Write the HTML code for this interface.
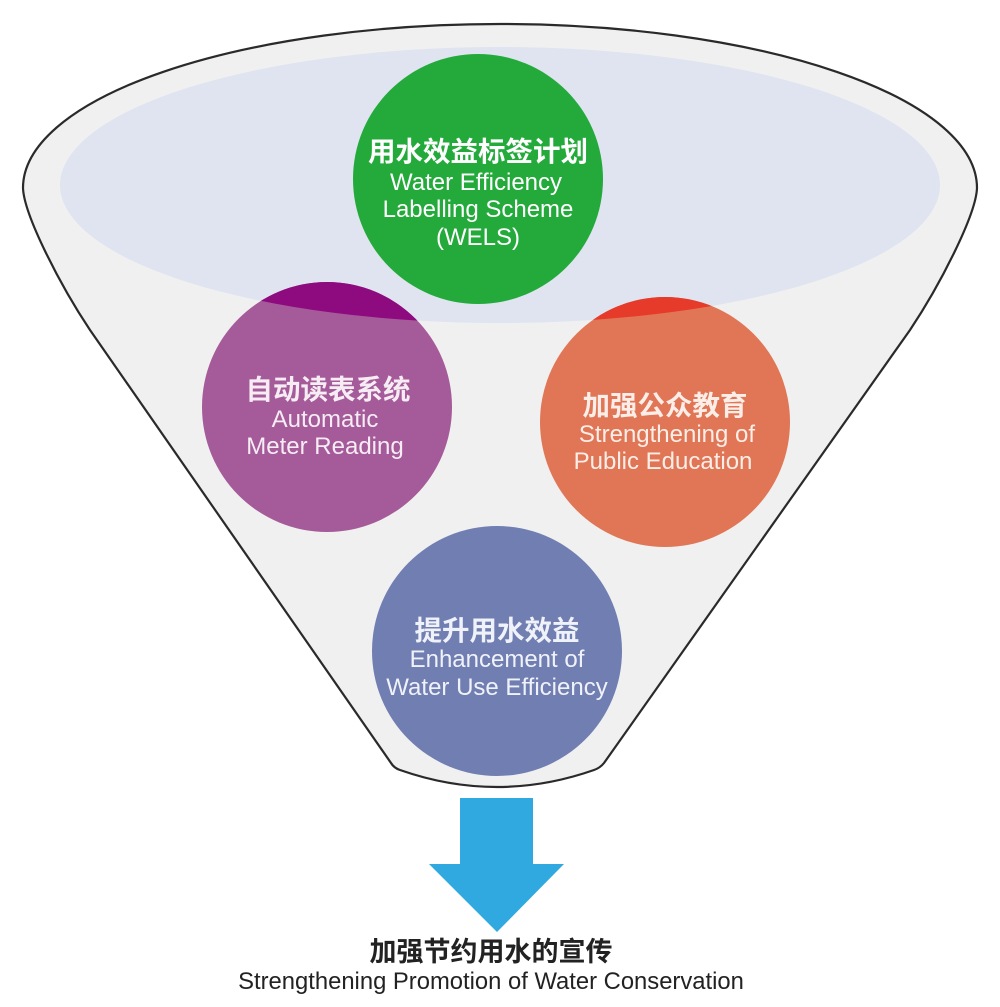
<!DOCTYPE html>
<html>
<head>
<meta charset="utf-8">
<style>
html,body{margin:0;padding:0;background:#fff;}
body{width:1000px;height:1007px;overflow:hidden;}
svg{display:block;}
.cj{font-family:"Liberation Sans","Noto Sans CJK SC",sans-serif;font-weight:bold;font-size:27.5px;}
.en{font-family:"Liberation Sans","Noto Sans CJK SC",sans-serif;font-size:24px;}
</style>
</head>
<body>
<svg width="1000" height="1007" viewBox="0 0 1000 1007" xmlns="http://www.w3.org/2000/svg">
  <defs>
    <clipPath id="ell">
      <ellipse cx="500" cy="185" rx="440" ry="138"/>
    </clipPath>
  </defs>
  <!-- funnel -->
  <path d="M 23,188 A 477,164 0 0 1 977,188 C 976,215 940,285 910,330 L 604,763 Q 600,768 594,770 Q 497,804 400,770 Q 394,768 391,763 L 90,330 C 60,285 24,215 23,188 Z"
        fill="#f0f0f0" stroke="#2a2a2a" stroke-width="2.2"/>
  <!-- top opening ellipse -->
  <ellipse cx="500" cy="185" rx="440" ry="138" fill="#dfe4f0"/>

  <!-- circles -->
  <circle cx="327" cy="407" r="125" fill="#a55a99"/>
  <circle cx="665" cy="422" r="125" fill="#e07656"/>
  <circle cx="497" cy="651" r="125" fill="#707eb2"/>
  <g clip-path="url(#ell)">
    <circle cx="327" cy="407" r="125" fill="#8e0a7f"/>
    <circle cx="665" cy="422" r="125" fill="#e63a2a"/>
  </g>
  <circle cx="478" cy="179" r="125" fill="#23aa3b"/>

  <!-- green text -->
  <g fill="#ffffff" text-anchor="middle">
    <text class="cj" x="478" y="161">用水效益标签计划</text>
    <text class="en" x="476" y="190">Water Efficiency</text>
    <text class="en" x="478" y="217">Labelling Scheme</text>
    <text class="en" x="478" y="245">(WELS)</text>
  </g>
  <!-- purple text -->
  <g fill="#f6ecf4" text-anchor="middle">
    <text class="cj" x="328" y="399">自动读表系统</text>
    <text class="en" x="325" y="427">Automatic</text>
    <text class="en" x="325" y="454">Meter Reading</text>
  </g>
  <!-- orange text -->
  <g fill="#fbeee8" text-anchor="middle">
    <text class="cj" x="665" y="415">加强公众教育</text>
    <text class="en" x="667" y="442">Strengthening of</text>
    <text class="en" x="663" y="469">Public Education</text>
  </g>
  <!-- blue text -->
  <g fill="#f0f2f9" text-anchor="middle">
    <text class="cj" x="497" y="640">提升用水效益</text>
    <text class="en" x="497" y="667">Enhancement of</text>
    <text class="en" x="497" y="695">Water Use Efficiency</text>
  </g>

  <!-- arrow -->
  <polygon points="460,798 533,798 533,864 564,864 497,932 429,864 460,864" fill="#30a8e0"/>

  <!-- bottom caption -->
  <g fill="#222222" text-anchor="middle">
    <text class="cj" x="491" y="961" style="font-size:27px">加强节约用水的宣传</text>
    <text class="en" x="491" y="989" style="font-size:23.8px">Strengthening Promotion of Water Conservation</text>
  </g>
</svg>
</body>
</html>
